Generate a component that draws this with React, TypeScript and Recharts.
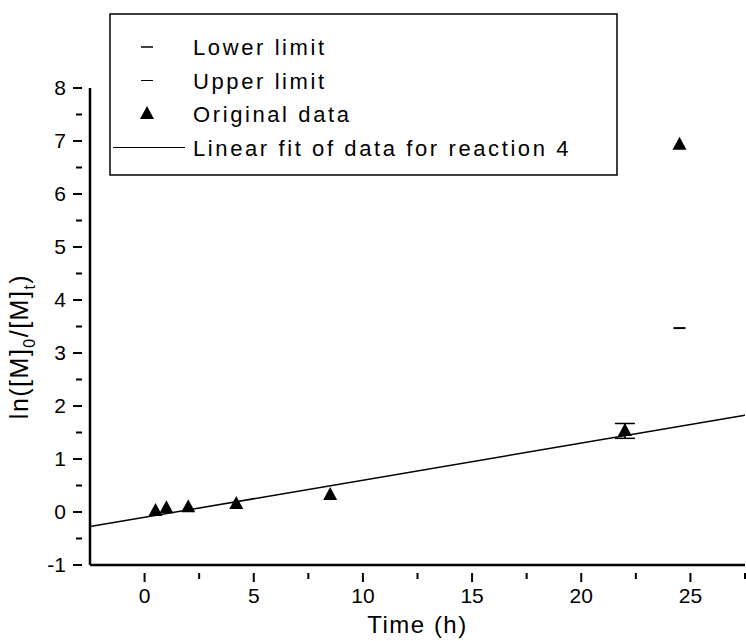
import { ComposedChart, Scatter, XAxis, YAxis, ErrorBar, Label } from "recharts";

// time (h) and ln([M]0/[M]t)
const times = [0.5, 1, 2, 4.2, 8.5, 22, 24.5];
const lnValues = [0.02, 0.07, 0.09, 0.15, 0.32, 1.53, 6.93];
const errors = [0, 0, 0, 0, 0, 0.14, 0];

const lowerLimitTimes = [24.5];
const lowerLimitValues = [3.47];

// linear fit drawn across the whole x range
const fitTimes = [-2.5, 27.5];
const fitValues = [-0.275, 1.825];

const xTicks = [0, 2.5, 5, 7.5, 10, 12.5, 15, 17.5, 20, 22.5, 25, 27.5];
const yTicks = [-1, -0.5, 0, 0.5, 1, 1.5, 2, 2.5, 3, 3.5, 4, 4.5, 5, 5.5, 6, 6.5, 7, 7.5, 8];

const legendItems = ["Lower limit", "Upper limit", "Original data", "Linear fit of data for reaction 4"];

const originalData = times.map((t, i) => ({ x: t, y: lnValues[i], err: errors[i] }));
const lowerData = lowerLimitTimes.map((t, i) => ({ x: t, y: lowerLimitValues[i] }));
const fitData = fitTimes.map((t, i) => ({ x: t, y: fitValues[i] }));

const FONT = "'Liberation Sans', Arial, sans-serif";

const Triangle = (props: any) => {
  const { cx, cy } = props;
  if (cx == null || cy == null) return <g />;
  return <path d={`M${cx},${cy - 8}L${cx + 7},${cy + 5}L${cx - 7},${cy + 5}Z`} fill="#000" />;
};

const Dash = (props: any) => {
  const { cx, cy } = props;
  if (cx == null || cy == null) return <g />;
  return <line x1={cx - 6} x2={cx + 6} y1={cy} y2={cy} stroke="#000" strokeWidth={2} />;
};

const XTick = (props: any) => {
  const { x, y, payload } = props;
  const major = payload.value % 5 === 0;
  return (
    <g>
      <line x1={x} x2={x} y1={y} y2={y + (major ? 9 : 6)} stroke="#000" strokeWidth={2} />
      {major && (
        <text x={x} y={y + 30} textAnchor="middle" fontSize={21} fontFamily={FONT} fill="#000">
          {payload.value}
        </text>
      )}
    </g>
  );
};

const YTick = (props: any) => {
  const { x, y, payload } = props;
  const major = Number.isInteger(payload.value);
  return (
    <g>
      <line x1={x} x2={x - (major ? 9 : 6)} y1={y} y2={y} stroke="#000" strokeWidth={2} />
      {major && (
        <text x={x - 16} y={y + 7} textAnchor="end" fontSize={21} fontFamily={FONT} fill="#000">
          {payload.value}
        </text>
      )}
    </g>
  );
};

const LegendBox = () => (
  <svg width={509} height={163} style={{ display: "block" }}>
    <rect x={1} y={1} width={507} height={161} fill="#fff" stroke="#000" strokeWidth={1.5} />
    {legendItems.map((label, i) => {
      const cy = 34 + i * 33.5;
      let sym;
      if (i === 0 || i === 1) sym = <line x1={32} x2={44} y1={cy} y2={cy} stroke="#000" strokeWidth={i === 0 ? 1.5 : 1} />;
      else if (i === 2) sym = <path d={`M38,${cy - 8}L45,${cy + 5}L31,${cy + 5}Z`} fill="#000" />;
      else sym = <line x1={4} x2={76} y1={cy} y2={cy} stroke="#000" strokeWidth={1} />;
      return (
        <g key={label}>
          {sym}
          <text x={84} y={cy + 8} fontSize={22} fontFamily={FONT} letterSpacing={2.6} fill="#000">
            {label}
          </text>
        </g>
      );
    })}
  </svg>
);

const YLabel = (props: any) => {
  const vb = props.viewBox || { y: 88, height: 477 };
  const cx = 28;
  const cy = vb.y + vb.height / 2 + 20;
  return (
    <text
      x={cx}
      y={cy}
      transform={`rotate(-90 ${cx} ${cy})`}
      textAnchor="middle"
      fontSize={25}
      fontFamily={FONT}
      letterSpacing={1.5}
      fill="#000"
    >
      ln([M]
      <tspan dy={7} fontSize={16}>0</tspan>
      <tspan dy={-7}>/[M]</tspan>
      <tspan dy={7} fontSize={16}>t</tspan>
      <tspan dy={-7}>)</tspan>
    </text>
  );
};

export default function App() {
  return (
    <div style={{ position: "absolute", left: 0, top: 0, width: 746, height: 641, background: "#fff" }}>
      <ComposedChart width={746} height={641} margin={{ top: 88, right: 1, left: 0, bottom: 0 }}>
        <XAxis
          type="number"
          dataKey="x"
          domain={[-2.5, 27.5]}
          ticks={xTicks}
          interval={0}
          allowDataOverflow
          height={76}
          axisLine={{ stroke: "#000", strokeWidth: 2.5 }}
          tickLine={false}
          tick={<XTick />}
        >
          <Label
            value="Time (h)"
            position="insideBottom"
            offset={8}
            fontSize={24}
            fontFamily={FONT}
            letterSpacing={1.5}
            fill="#000"
          />
        </XAxis>
        <YAxis
          type="number"
          dataKey="y"
          domain={[-1, 8]}
          ticks={yTicks}
          interval={0}
          allowDataOverflow
          width={90}
          axisLine={{ stroke: "#000", strokeWidth: 2.5 }}
          tickLine={false}
          tick={<YTick />}
        >
          <Label content={<YLabel />} />
        </YAxis>
        <Scatter
          data={fitData}
          line={{ stroke: "#000", strokeWidth: 1.5 }}
          shape={() => <g />}
          isAnimationActive={false}
        />
        <Scatter data={lowerData} shape={<Dash />} isAnimationActive={false} />
        <Scatter data={originalData} shape={<Triangle />} isAnimationActive={false}>
          <ErrorBar dataKey="err" direction="y" width={10} stroke="#000" strokeWidth={1.5} />
        </Scatter>
      </ComposedChart>
      <div style={{ position: "absolute", left: 109, top: 13 }}>
        <LegendBox />
      </div>
    </div>
  );
}
